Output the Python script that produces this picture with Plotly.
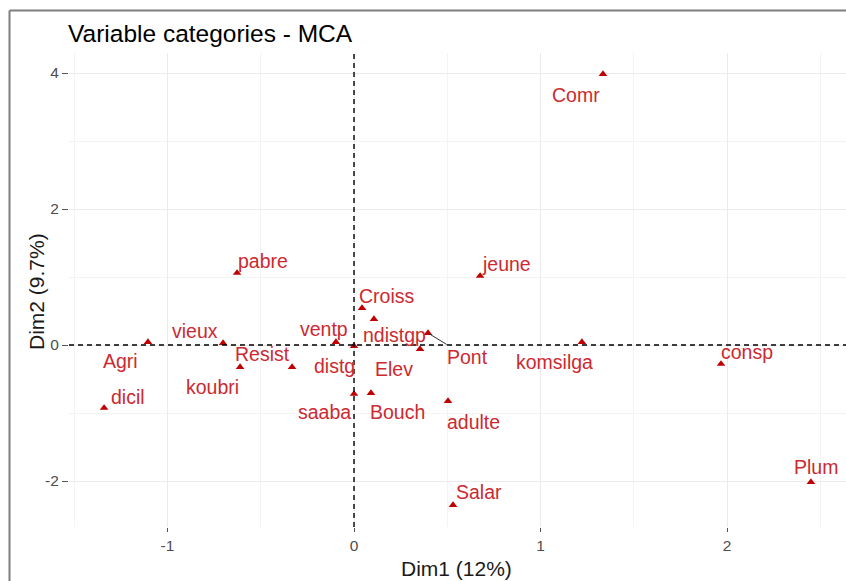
import plotly.graph_objects as go

# ---- data ----
categories = ["Comr", "jeune", "pabre", "Croiss", "ndistgp", "Pont", "Elev", "distg",
              "ventp", "saaba", "Bouch", "adulte", "komsilga", "consp", "Plum", "Salar",
              "Resist", "koubri", "vieux", "Agri", "dicil"]
dim1 = [1.335, 0.676, -0.627, 0.043, 0.107, 0.397, 0.354, 0.000,
        -0.097, 0.000, 0.091, 0.504, 1.222, 1.968, 2.450, 0.531,
        -0.332, -0.611, -0.702, -1.105, -1.340]
dim2 = [3.985, 1.015, 1.059, 0.544, 0.382, 0.176, -0.059, -0.015,
        0.044, -0.720, -0.706, -0.824, 0.044, -0.279, -2.015, -2.353,
        -0.324, -0.324, 0.029, 0.044, -0.926]
x_ticks = [-1, 0, 1, 2]
x_tick_labels = ["-1", "0", "1", "2"]
y_ticks = [-2, 0, 2, 4]
y_tick_labels = ["-2", "0", "2", "4"]

# label offsets in pixels (repel-like placement, style only)
label_dx = [-27, 26, 26, 25, 21, 39, -26, -20, -12, -30, 27, 25, -27, 26, 5, 26, -30, -28, -28, -27, 24]
label_dy = [-21, 12, 12, 12, -16, -24, -20, -20, 13, -18, -19, -21, -20, 12, 15, 13, 13, -20, 12, -19, 11]
connector = ["Pont"]

W, H = 846, 581
L, R, T, B = 69, 0, 53, 54
pw, ph = W - L - R, H - T - B

def px_x(p):
    return (p - L) / pw

def px_y(p):
    return (H - B - p) / ph

FONT = "Liberation Sans, Arial"
LABEL_COL = "#CC2A30"
POINT_COL = "#C00000"
TICK_COL = "#4D4D4D"
GRID_COL = "#EBEBEB"

fig = go.Figure()
fig.add_trace(go.Scatter(
    x=dim1, y=dim2, mode="markers",
    marker=dict(symbol="triangle-up", size=7.5, color=POINT_COL, line=dict(width=0)),
    hoverinfo="text", text=categories, showlegend=False,
))

annotations = []
for name, xv, yv, dx, dy in zip(categories, dim1, dim2, label_dx, label_dy):
    if name in connector:
        annotations.append(dict(
            x=xv, y=yv, xref="x", yref="y", text=name, showarrow=True,
            arrowhead=0, arrowwidth=1, arrowcolor="#333333", ax=dx, ay=-dy,
            standoff=2, font=dict(family=FONT, size=19.5, color=LABEL_COL),
        ))
    else:
        annotations.append(dict(
            x=xv, y=yv, xref="x", yref="y", text=name, showarrow=False,
            xshift=dx, yshift=dy,
            font=dict(family=FONT, size=19.5, color=LABEL_COL),
        ))

# axis titles
annotations.append(dict(
    x=px_x(456), y=px_y(568), xref="paper", yref="paper", text="Dim1 (12%)",
    showarrow=False, xanchor="center", yanchor="middle",
    font=dict(family=FONT, size=21, color="#1a1a1a"),
))
annotations.append(dict(
    x=px_x(36), y=px_y(292), xref="paper", yref="paper", text="Dim2 (9.7%)",
    showarrow=False, xanchor="center", yanchor="middle", textangle=-90,
    font=dict(family=FONT, size=21, color="#1a1a1a"),
))

shapes = [
    dict(type="line", xref="x", yref="paper", x0=0, x1=0, y0=0, y1=1,
         line=dict(color="black", width=1.4, dash="5px,4px")),
    dict(type="line", xref="paper", yref="y", x0=0, x1=1, y0=0, y1=0,
         line=dict(color="black", width=1.4, dash="5px,4px")),
    # screenshot frame
    dict(type="line", xref="paper", yref="paper", x0=px_x(9.5), x1=px_x(9.5),
         y0=px_y(10.5), y1=px_y(585), line=dict(color="#7f7f7f", width=2)),
    dict(type="line", xref="paper", yref="paper", x0=px_x(9.5), x1=px_x(850),
         y0=px_y(10.5), y1=px_y(10.5), line=dict(color="#7f7f7f", width=2)),
]

x0_px, x_scale = 354, 186.5
y0_px, y_scale = 345, 68
x_range = [(L - x0_px) / x_scale, (W - R - x0_px) / x_scale]
y_range = [(y0_px - (H - B)) / y_scale, (y0_px - T) / y_scale]

fig.update_layout(
    width=W, height=H,
    margin=dict(l=L, r=R, t=T, b=B),
    paper_bgcolor="white", plot_bgcolor="white",
    title=dict(text="Variable categories - MCA", x=68 / W, xref="container", xanchor="left",
               y=1 - 33 / H, yref="container", yanchor="middle",
               font=dict(family=FONT, size=24.5, color="black")),
    xaxis=dict(range=x_range, tickvals=x_ticks, ticktext=x_tick_labels,
               showgrid=True, gridcolor=GRID_COL, gridwidth=1.2,
               zeroline=False, showline=False, ticks="outside", ticklen=4, tickwidth=1.3,
               tickcolor="#555555",
               tickfont=dict(family=FONT, size=15.5, color=TICK_COL),
               minor=dict(tickvals=[-1.5, -0.5, 0.5, 1.5, 2.5], showgrid=True,
                          gridcolor="#F3F3F3", gridwidth=1, ticks="")),
    yaxis=dict(range=y_range, tickvals=y_ticks, ticktext=y_tick_labels,
               showgrid=True, gridcolor=GRID_COL, gridwidth=1.2,
               zeroline=False, showline=False, ticks="outside", ticklen=6, tickwidth=1.3,
               tickcolor="#555555",
               tickfont=dict(family=FONT, size=15.5, color=TICK_COL),
               minor=dict(tickvals=[-1, 1, 3], showgrid=True, gridcolor="#F3F3F3",
                          gridwidth=1, ticks="")),
    annotations=annotations,
    shapes=shapes,
)

fig.write_html("out.html")
